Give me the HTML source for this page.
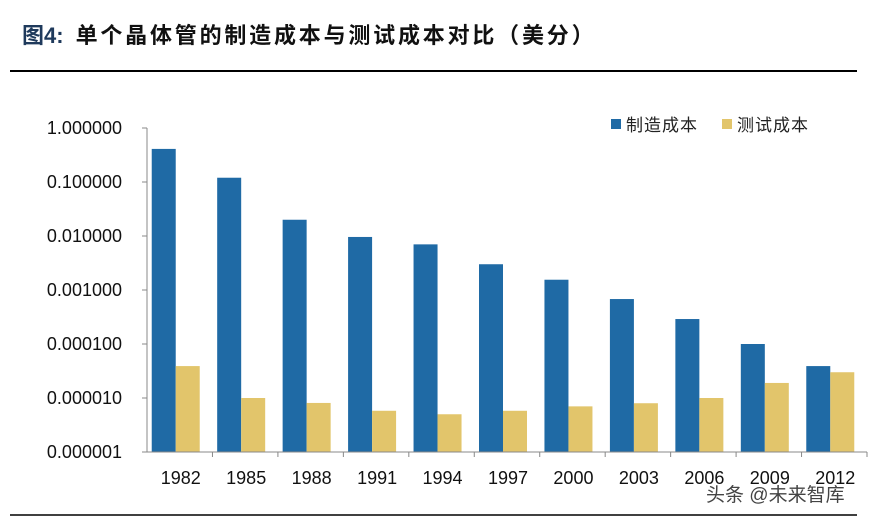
<!DOCTYPE html>
<html><head><meta charset="utf-8"><style>
body{margin:0;width:881px;height:521px;background:#fff;overflow:hidden;font-family:"Liberation Sans","Noto Sans CJK SC",sans-serif;}
</style></head><body>
<svg id="c" width="881" height="521" xmlns="http://www.w3.org/2000/svg">
<text x="22" y="43" font-size="22" font-weight="bold" font-family="'Liberation Sans','Noto Sans CJK SC',sans-serif"><tspan fill="#1f3a5c">图4:</tspan><tspan fill="#111" dx="12" letter-spacing="2.8">单个晶体管的制造成本与测试成本对比（美分）</tspan></text>
<line x1="10" y1="71" x2="857" y2="71" stroke="#000" stroke-width="2"/>
<line x1="10" y1="515" x2="857" y2="515" stroke="#000" stroke-width="1.5"/>
<g id="plot"></g>
<rect x="611" y="119" width="10" height="10" fill="#1f6aa5"/>
<text x="626" y="131" font-size="17" letter-spacing="1" fill="#222">制造成本</text>
<rect x="722" y="119" width="10" height="10" fill="#e2c56b"/>
<text x="737" y="131" font-size="17" letter-spacing="1" fill="#222">测试成本</text>
<text x="706" y="501" font-size="19" fill="#444">头条 @未来智库</text>
</svg>
<script>
const years=["1982","1985","1988","1991","1994","1997","2000","2003","2006","2009","2012"];
const mfgCost=[0.41,0.12,0.02,0.0096,0.007,0.003,0.00155,0.00068,0.00029,0.0001,0.000039];
const testCost=[0.000039,0.00001,0.0000081,0.0000058,0.000005,0.0000058,0.000007,0.000008,0.00001,0.000019,0.00003];
const tickLabels=["1.000000","0.100000","0.010000","0.001000","0.000100","0.000010","0.000001"];
const tickExps=[0,-1,-2,-3,-4,-5,-6];
const NS="http://www.w3.org/2000/svg";
const g=document.getElementById('plot');
const x0=147,x1=867,yTop=128,yBot=452;
function y(v){return yTop+(0-Math.log10(v))/6*(yBot-yTop);}
const gw=(x1-x0)/years.length;
function mk(t,a){const e=document.createElementNS(NS,t);for(const k in a)e.setAttribute(k,a[k]);g.appendChild(e);return e;}
tickExps.forEach((ex,i)=>{
 const yy=y(Math.pow(10,ex));
 const t=mk('text',{x:122,y:yy+6,'text-anchor':'end','font-size':18,fill:'#111'});t.textContent=tickLabels[i];
 
 
 const l=mk('line',{x1:x0-5,x2:x0,y1:yy,y2:yy,stroke:'#888'});
 
 
});
years.forEach((yr,i)=>{
 const cx=x0+gw*(i+0.5);
 const b1=mk('rect',{x:cx-28,y:y(mfgCost[i]),width:24,height:yBot-y(mfgCost[i]),fill:'#1f6aa5'});
 
 
 const b2=mk('rect',{x:cx-4,y:y(testCost[i]),width:24,height:yBot-y(testCost[i]),fill:'#e2c56b'});
 
 
 const t=mk('text',{x:cx+1,y:484,'text-anchor':'middle','font-size':18,fill:'#111'});t.textContent=yr;
 
 
 const tk=mk('line',{x1:x0+gw*(i+1),x2:x0+gw*(i+1),y1:yBot,y2:yBot+5,stroke:'#888'});
 
 
});
const ya=mk('line',{x1:x0,x2:x0,y1:yTop,y2:yBot,stroke:'#888'});


const xa=mk('line',{x1:x0,x2:x1,y1:yBot,y2:yBot,stroke:'#888'});


</script>
</body></html>
